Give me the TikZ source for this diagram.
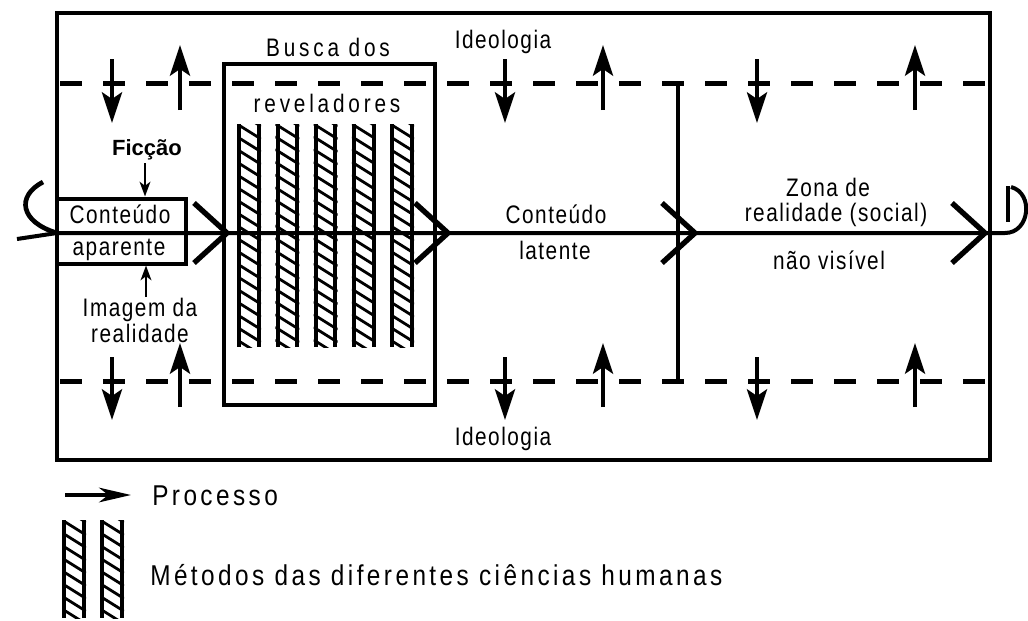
\documentclass[tikz,border=0pt]{standalone}
\usepackage{fontspec}
\setmainfont{Liberation Sans}
\newfontfamily\fa[FakeStretch=0.82,LetterSpace=6]{Liberation Sans}
\newfontfamily\fb[FakeStretch=0.82,LetterSpace=15]{Liberation Sans}
\newfontfamily\fl[FakeStretch=0.85,LetterSpace=12]{Liberation Sans}
\usetikzlibrary{arrows.meta}
\newcommand\hatchcol[3]{%
  \begin{scope}
    \clip (#1,#2) rectangle (#1+24,#3);
    \foreach \k in {-2,...,19}{\draw[hatchln] (#1,#2+\k*12.7) -- (#1+24,#2+\k*12.7+15);}
  \end{scope}
  \draw[colln] (#1+2.2,#2) -- (#1+2.2,#3);
  \draw[colln] (#1+21.8,#2) -- (#1+21.8,#3);}
\begin{document}
\begin{tikzpicture}[x=0.75pt,y=-0.75pt,
  thick line/.style={line width=3pt},
  frameln/.style={line width=3pt},
  dline/.style={line width=3.3pt, dash pattern=on 16.5pt off 15.75pt},
  varr/.style={line width=3pt, -{Stealth[length=23pt,width=15pt,inset=5pt]}},
  smallarr/.style={line width=2.2pt, -{Stealth[length=11pt,width=8pt,inset=3pt]}},
  chev/.style={line width=4pt, miter limit=10},
  hatchln/.style={line width=2.1pt},
  colln/.style={line width=3pt},
  txt/.style={font=\fa\fontsize{19}{21}\selectfont, inner sep=0pt, anchor=base},
  txtb/.style={font=\fb\fontsize{19}{21}\selectfont, inner sep=0pt, anchor=base},
  leg/.style={font=\fl\fontsize{21.5}{24}\selectfont, inner sep=0pt, anchor=base west}]
\useasboundingbox (0,0) rectangle (1028,621);

% outer frame
\draw[frameln] (57,13) rectangle (990,460);

% dashed ideology lines
\draw[dline] (60,83.5) -- (990,83.5);
\draw[dline] (60,381.5) -- (990,381.5);

% big box "Busca dos reveladores"
\draw[frameln] (224,64) rectangle (435,405);
\node[txtb] (busca) at (328,56) {Busca dos};
\node[txtb] (revel) at (327,112) {reveladores};

% hatched columns
\foreach \cx in {237,275.3,313.6,351.9,390.2}{\hatchcol{\cx}{124}{347}}

% vertical line
\coordinate (vtop) at (678,83.5);
\coordinate (vbot) at (678,381.5);
\draw[thick line] (vtop) -- (vbot);

% small box
\node[draw, frameln, minimum width=97pt, minimum height=48.75pt, inner sep=0pt] (apar) at (121.75,231) {};
\node[txt] (cont1) at (120,223) {Conteúdo};
\node[txt] (apar1) at (119,255) {aparente};

% Ficcao and Imagem
\node[font=\fontsize{16.5}{18}\selectfont, inner sep=0pt, anchor=base] (fic) at (147,155) {\textbf{Ficção}};
\coordinate (ficarr) at (145,163);
\draw[smallarr] (ficarr) -- (apar.north -| ficarr);
\node[txt] (img1) at (140,316) {Imagem da};
\node[txt] (img2) at (140,342) {realidade};
\coordinate (imgarr) at (146,297);
\draw[smallarr] (imgarr) -- (apar.south -| imgarr);

% main process line
\coordinate (p0) at (17,239);
\coordinate (p1) at (57,233);
\coordinate (p2) at (990,233);
\draw[thick line] (p0) -- (p1) -- (p2);
\draw[line width=3.5pt] (43,182) .. controls (16,196) and (20,222) .. (p1);

% chevrons
\foreach \t in {227,448,695,985}{
  \draw[chev] (\t-33,203) -- (\t,233) -- (\t-33,263);
}

% right hook
\coordinate (h0) at (1005,233);
\draw[line width=3pt] (p2) -- (h0) .. controls (1030,233) and (1034,193) .. (1011,187);
\draw[line width=2.6pt] (1008,186) -- (1008,222);

% texts in the middle
\node[txt] (cl1) at (556,223) {Conteúdo};
\node[txt] (cl2) at (555,259) {latente};
\node[txt] (z1) at (828,196) {Zona de};
\node[txt] (z2) at (836,221) {realidade (social)};
\node[txt] (z3) at (829,269) {não visível};
\node[txt] (ideo1) at (503,48) {Ideologia};
\node[txt] (ideo2) at (503,445) {Ideologia};

% up / down arrows
\foreach \x/\n in {112/a,505/b,757/c}{
  \coordinate (dts\n) at (\x,59);  \coordinate (dte\n) at (\x,123);
  \draw[varr] (dts\n) -- (dte\n);
  \coordinate (dbs\n) at (\x,357); \coordinate (dbe\n) at (\x,420);
  \draw[varr] (dbs\n) -- (dbe\n);
}
\foreach \x/\n in {180/a,603/b,915/c}{
  \coordinate (uts\n) at (\x,110); \coordinate (ute\n) at (\x,45);
  \draw[varr] (uts\n) -- (ute\n);
  \coordinate (ubs\n) at (\x,407); \coordinate (ube\n) at (\x,343);
  \draw[varr] (ubs\n) -- (ube\n);
}

% legend
\coordinate (la0) at (65,495);
\coordinate (la1) at (131,495);
\draw[line width=2.6pt, -{Stealth[length=24pt,width=11pt,inset=7pt]}] (la0) -- (la1);
\node[leg] (lproc) at (152,505) {Processo};
\hatchcol{62}{520}{618}
\hatchcol{100}{520}{618}
\node[leg] (lmet) at (150,585) {Métodos das diferentes ciências humanas};
\end{tikzpicture}
\end{document}
